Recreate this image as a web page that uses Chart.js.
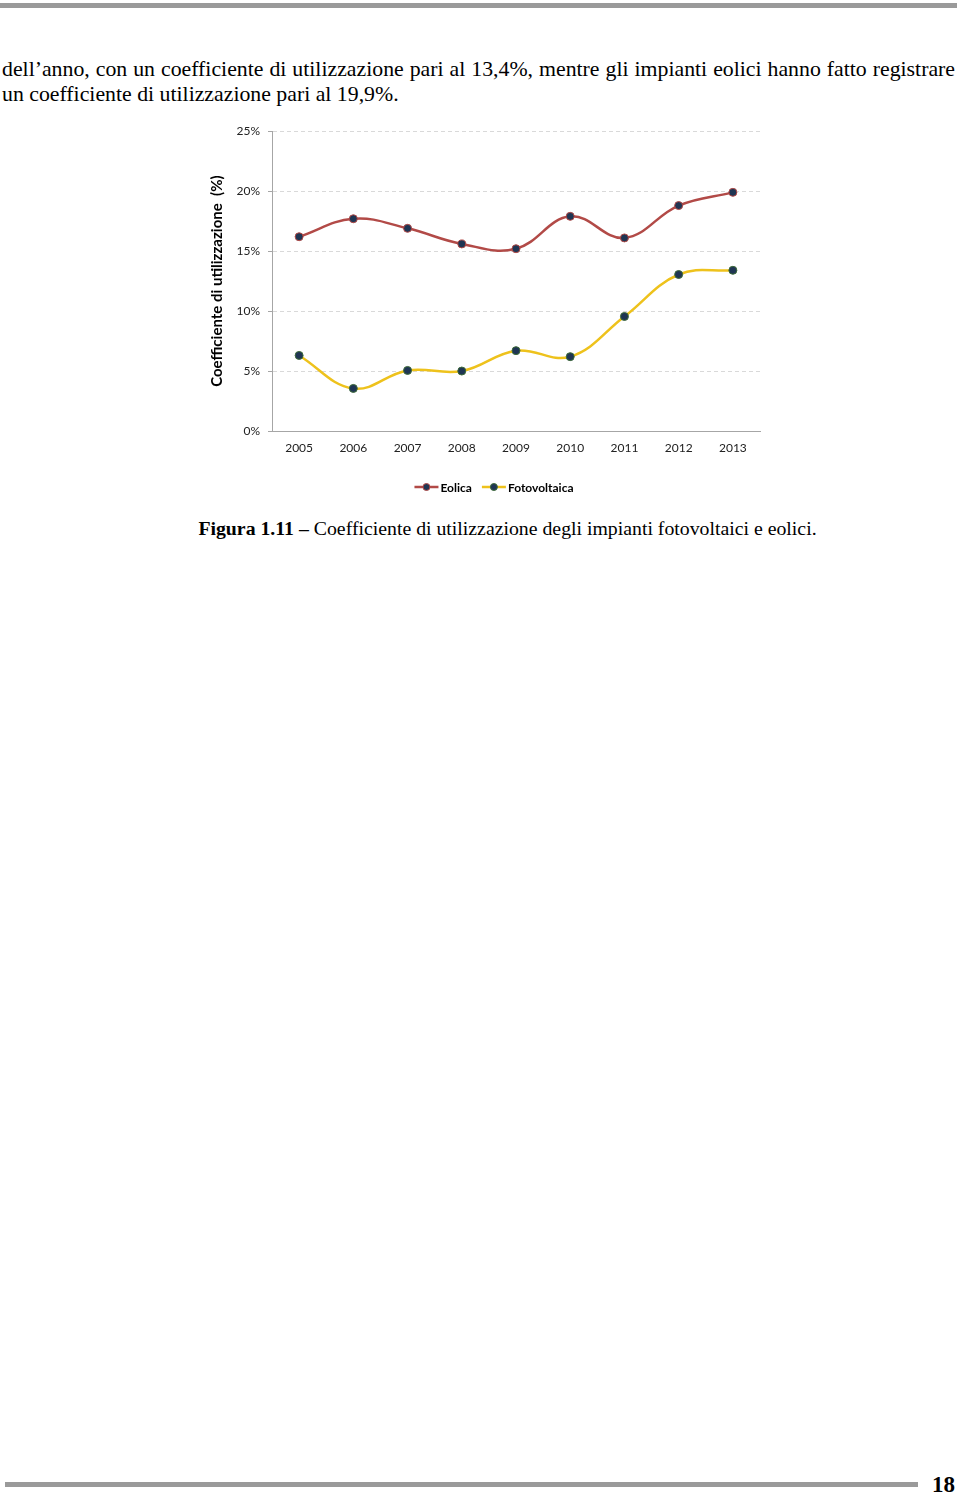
<!DOCTYPE html>
<html lang="it">
<head>
<meta charset="utf-8">
<script src="https://cdn.jsdelivr.net/npm/chart.js@4.4.1/dist/chart.umd.min.js"></script>
<style>
    html, body { margin: 0; padding: 0; background: #fff; }
    body { width: 960px; height: 1495px; position: relative; overflow: hidden; font-family: 'Liberation Serif', 'Times New Roman', serif; color: #000; }
    .bar { position: absolute; background: #9a9a9a; }
    #top-bar { left: 0; top: 3px; width: 957px; height: 5px; }
    #bottom-bar { left: 5px; top: 1482px; width: 913px; height: 5px; }
    .para { position: absolute; left: 2px; width: 953px; font-size: 21.8px; line-height: 25px; white-space: nowrap; }
    #line1 { top: 57px; text-align: justify; text-align-last: justify; }
    #line2 { top: 82px; }
    #chart-box { position: absolute; left: 200px; top: 116px; width: 570px; height: 384px; }
    #caption { position: absolute; left: 0; width: 1015px; top: 517px; text-align: center; font-size: 19.8px; white-space: nowrap; }
    #page-num { position: absolute; left: 932px; top: 1472px; font-size: 23px; font-weight: bold; }
</style>
</head>
<body>
<div class="bar" id="top-bar"></div>
<div class="para" id="line1">dell’anno, con un coefficiente di utilizzazione pari al 13,4%, mentre gli impianti eolici hanno fatto registrare</div>
<div class="para" id="line2">un coefficiente di utilizzazione pari al 19,9%.</div>
<div id="chart-box"><canvas id="chart"></canvas></div>
<div id="caption"><b>Figura 1.11 –</b> Coefficiente di utilizzazione degli impianti fotovoltaici e eolici.</div>
<div class="bar" id="bottom-bar"></div>
<div id="page-num">18</div>

<script>
    // Values (percent)
    const years = ['2005', '2006', '2007', '2008', '2009', '2010', '2011', '2012', '2013'];
    const eolica = [16.2, 17.7, 16.9, 15.6, 15.2, 17.9, 16.1, 18.8, 19.9];
    const fotovoltaica = [6.3, 3.55, 5.05, 5.0, 6.7, 6.2, 9.55, 13.05, 13.4];
    const seriesNames = ['Eolica', 'Fotovoltaica'];
    const yTicks = [0, 5, 10, 15, 20, 25];
    const yTitle = 'Coefficiente di utilizzazione  (%)';

    const EOLICA_COLOR = '#B24A47';
    const FOTO_COLOR = '#EEC21C';
    const MARKER_COLOR = '#1F3553';
    const TICK_FONT = { family: 'Lato, "Open Sans", sans-serif', size: 12 };

    // Legend with line + marker, drawn under the plot like the Excel original
    const lineLegend = {
        id: 'lineLegend',
        afterDraw(chart) {
            const ctx = chart.ctx;
            const ds = chart.data.datasets;
            ctx.save();
            ctx.font = 'bold 12px Lato, "Open Sans", sans-serif';
            ctx.textBaseline = 'middle';
            const lineW = 24, gap = 2, itemGap = 10;
            const widths = ds.map(d => lineW + gap + ctx.measureText(d.label).width);
            const total = widths.reduce((a, b) => a + b, 0) + itemGap * (ds.length - 1);
            let x = 294 - total / 2;
            const y = 371;
            ds.forEach((d, i) => {
                ctx.strokeStyle = d.borderColor;
                ctx.lineWidth = 2.5;
                ctx.beginPath();
                ctx.moveTo(x, y);
                ctx.lineTo(x + lineW, y);
                ctx.stroke();
                ctx.fillStyle = d.pointBackgroundColor;
                ctx.strokeStyle = d.pointBorderColor;
                ctx.lineWidth = 1;
                ctx.beginPath();
                ctx.arc(x + lineW / 2, y, 3.5, 0, Math.PI * 2);
                ctx.fill();
                ctx.stroke();
                ctx.fillStyle = '#000';
                ctx.fillText(d.label, x + lineW + gap, y + 1);
                x += widths[i] + itemGap;
            });
            ctx.restore();
        }
    };

    new Chart(document.getElementById('chart').getContext('2d'), {
        type: 'line',
        data: {
            labels: years,
            datasets: [{
                label: seriesNames[0],
                data: eolica,
                borderColor: EOLICA_COLOR,
                borderWidth: 2.5,
                tension: 0.4,
                pointRadius: 4,
                pointBackgroundColor: MARKER_COLOR,
                pointBorderColor: EOLICA_COLOR,
                pointBorderWidth: 1,
                fill: false
            }, {
                label: seriesNames[1],
                data: fotovoltaica,
                borderColor: FOTO_COLOR,
                borderWidth: 2.5,
                tension: 0.4,
                pointRadius: 4,
                pointBackgroundColor: MARKER_COLOR,
                pointBorderColor: '#3E6B3A',
                pointBorderWidth: 1,
                fill: false
            }]
        },
        options: {
            responsive: true,
            maintainAspectRatio: false,
            animation: false,
            layout: { padding: { top: 3, right: 10, bottom: 39, left: 8 } },
            scales: {
                x: {
                    offset: true,
                    grid: { display: false },
                    border: { display: true, color: '#A6A6A6', width: 1 },
                    ticks: { color: '#222', font: TICK_FONT, padding: 2 },
                    afterFit(scale) { scale.height = 30; }
                },
                y: {
                    min: 0,
                    max: 25,
                    afterBuildTicks(scale) { scale.ticks = yTicks.map(v => ({ value: v })); },
                    grid: {
                        color: '#D9D9D9',
                        tickColor: '#A6A6A6',
                        tickLength: 4,
                        drawTicks: true
                    },
                    border: { display: true, color: '#A6A6A6', width: 1, dash: [4, 3] },
                    ticks: {
                        color: '#222',
                        font: TICK_FONT,
                        padding: 8,
                        callback: v => v + '%'
                    },
                    title: {
                        display: true,
                        text: yTitle,
                        color: '#000',
                        font: { family: 'Lato, "Open Sans", sans-serif', size: 15, weight: 'bold' },
                        padding: { top: 0, bottom: 14 }
                    },
                    afterFit(scale) { scale.width = 64; }
                }
            },
            plugins: {
                legend: { display: false },
                tooltip: { enabled: false }
            }
        },
        plugins: [lineLegend]
    });
</script>
</body>
</html>
